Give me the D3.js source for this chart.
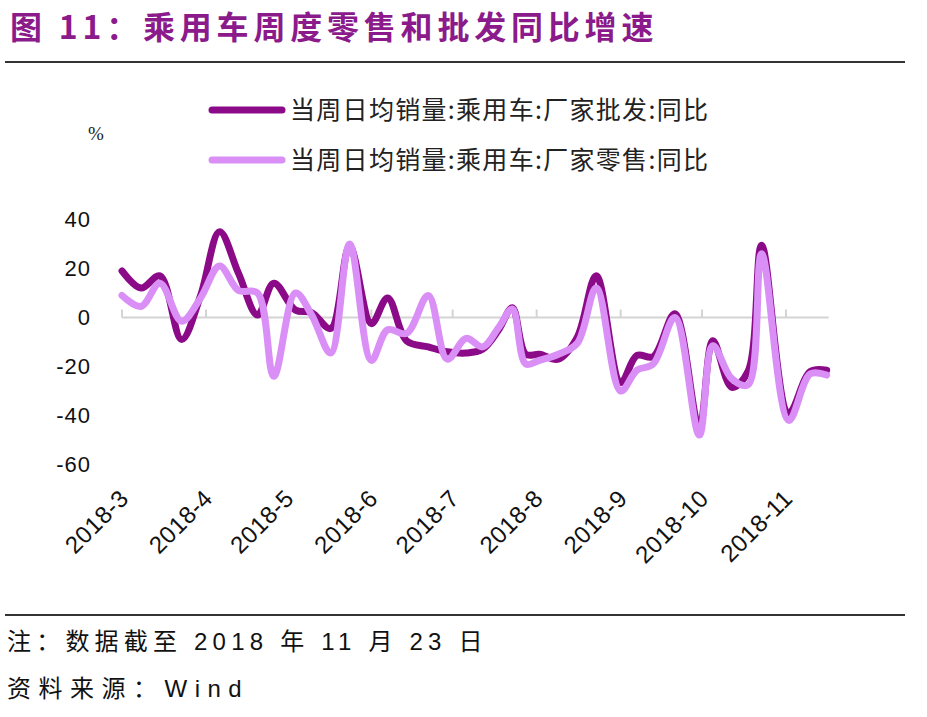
<!DOCTYPE html>
<html>
<head>
<meta charset="utf-8">
<script src="https://cdn.jsdelivr.net/npm/d3@7"></script>
<style>
  body { margin: 0; background: #fff; }
  svg { display: block; }
</style>
</head>
<body>
<script>
// weekly points (date of each week)
var dates = ["2018-03-01","2018-03-08","2018-03-15","2018-03-23","2018-03-30",
             "2018-04-06","2018-04-13","2018-04-20","2018-04-26","2018-05-04",
             "2018-05-10","2018-05-17","2018-05-24","2018-06-01","2018-06-07",
             "2018-06-14","2018-06-22","2018-06-29","2018-07-06","2018-07-12",
             "2018-07-18","2018-07-23","2018-07-28","2018-08-02","2018-08-09",
             "2018-08-16","2018-08-23","2018-09-01","2018-09-07","2018-09-13",
             "2018-09-21","2018-09-30","2018-10-05","2018-10-12","2018-10-18",
             "2018-10-23","2018-11-02","2018-11-10","2018-11-16"];

// 当周日均销量:乘用车:厂家批发:同比
var wholesale = [19, 12, 17, -9, 9,
                 35, 18, 1, 14, 3,
                 2, -4.5, 29, -2.5, 8,
                 -9.5, -12, -14, -14.5, -13,
                 -5, 4, -15, -15, -17,
                 -8, 17, -26.5, -15.5, -16,
                 1.5, -45, -9.5, -28.5, -22,
                 29.5, -39, -22, -21.5];

// 当周日均销量:乘用车:厂家零售:同比
var retail = [9, 4.5, 14, -1.5, 8,
              21, 11, 10, -24, 10,
              1, -14.5, 30, -17.5, -5,
              -6.5, 9, -17, -8.5, -12,
              -4, 3.5, -19, -17.5, -15,
              -10.5, 12, -30, -21.5, -19,
              0, -48, -11.5, -25, -27.5,
              26, -42, -23, -23.5];

var yTicks = [40, 20, 0, -20, -40, -60];
var seriesNames = ["当周日均销量:乘用车:厂家批发:同比", "当周日均销量:乘用车:厂家零售:同比"];
var colors = ["#8b0a87", "#da8ff6"];

var width = 927, height = 717;
var parse = d3.timeParse("%Y-%m-%d");
var dd = dates.map(parse);

var svg = d3.select("body").append("svg")
    .attr("width", width)
    .attr("height", height);

// title
svg.append("text")
    .attr("x", 10)
    .attr("y", 39)
    .style("font-family", "'Noto Sans CJK SC'")
    .style("font-weight", "bold")
    .style("font-size", "32px")
    .style("letter-spacing", "4.8px")
    .style("fill", "#8b1a8b")
    .text("图 11：乘用车周度零售和批发同比增速");

svg.append("line")
    .attr("x1", 5).attr("x2", 905)
    .attr("y1", 62).attr("y2", 62)
    .attr("stroke", "#333").attr("stroke-width", 2);

// scales
var x = d3.scaleTime()
    .domain([parse("2018-03-01"), parse("2018-11-01")])
    .range([122, 786]);

var y = d3.scaleLinear()
    .domain([-60, 40])
    .range([464.5, 219.5]);

// x axis line at zero with upward ticks
var months = d3.timeMonth.range(parse("2018-03-01"), parse("2018-12-01"));
var axisEnd = x(dd[dd.length - 1]) + 2;

svg.append("line")
    .attr("x1", x(months[0])).attr("x2", axisEnd)
    .attr("y1", y(0)).attr("y2", y(0))
    .attr("stroke", "#d4d4d4").attr("stroke-width", 2);

svg.selectAll(".tick")
    .data(months)
    .enter().append("line")
    .attr("class", "tick")
    .attr("x1", function(d) { return x(d); })
    .attr("x2", function(d) { return x(d); })
    .attr("y1", y(0))
    .attr("y2", y(0) - 8)
    .attr("stroke", "#d4d4d4").attr("stroke-width", 2);

// y labels
svg.selectAll(".ylab")
    .data(yTicks)
    .enter().append("text")
    .attr("class", "ylab")
    .attr("x", 91)
    .attr("y", function(d) { return y(d); })
    .attr("dy", "0.36em")
    .attr("text-anchor", "end")
    .style("font-family", "'Liberation Sans', Arial")
    .style("font-size", "22px")
    .style("letter-spacing", "1px")
    .style("fill", "#111")
    .text(function(d) { return d; });

svg.append("text")
    .attr("x", 96)
    .attr("y", 140)
    .attr("text-anchor", "middle")
    .style("font-family", "'Liberation Serif', serif")
    .style("font-size", "19px")
    .style("fill", "#222")
    .text("%");

// x labels, rotated
var fmt = d3.timeFormat("%Y-%-m");
svg.selectAll(".xlab")
    .data(months)
    .enter().append("text")
    .attr("class", "xlab")
    .attr("transform", function(d) { return "translate(" + (x(d) + 8) + ",500) rotate(-45)"; })
    .attr("text-anchor", "end")
    .style("font-family", "'Liberation Sans', Arial")
    .style("font-size", "24px")
    .style("letter-spacing", "0.5px")
    .style("fill", "#111")
    .text(function(d) { return fmt(d); });

// lines
var line = d3.line()
    .x(function(d) { return x(d[0]); })
    .y(function(d) { return y(d[1]); })
    .curve(d3.curveCatmullRom.alpha(0.5));

var seriesData = [wholesale, retail];
seriesData.forEach(function(vals, k) {
    svg.append("path")
        .datum(dd.map(function(d, i) { return [d, vals[i]]; }))
        .attr("d", line)
        .attr("fill", "none")
        .attr("stroke", colors[k])
        .attr("stroke-width", 7)
        .attr("stroke-linecap", "round")
        .attr("stroke-linejoin", "round");
});

// legend
var legend = svg.selectAll(".legend")
    .data(seriesNames)
    .enter().append("g")
    .attr("class", "legend")
    .attr("transform", function(d, i) { return "translate(212," + (110 + i * 50) + ")"; });

legend.append("line")
    .attr("x1", 0).attr("x2", 70)
    .attr("stroke", function(d, i) { return colors[i]; })
    .attr("stroke-width", 7)
    .attr("stroke-linecap", "round");

legend.append("text")
    .attr("x", 78)
    .attr("dy", "0.36em")
    .style("font-family", "'Noto Sans CJK SC'")
    .style("font-size", "25px")
    .style("letter-spacing", "1.3px")
    .style("fill", "#222")
    .text(function(d) { return d; });

// footer
svg.append("line")
    .attr("x1", 5).attr("x2", 905)
    .attr("y1", 615).attr("y2", 615)
    .attr("stroke", "#333").attr("stroke-width", 2);

svg.append("text")
    .attr("x", 7)
    .attr("y", 650)
    .style("font-family", "'Liberation Sans', 'Noto Sans CJK SC'")
    .style("font-size", "24px")
    .style("letter-spacing", "5.2px")
    .style("fill", "#111")
    .text("注：数据截至 2018 年 11 月 23 日");

svg.append("text")
    .attr("x", 7)
    .attr("y", 697)
    .style("font-family", "'Liberation Sans', 'Noto Sans CJK SC'")
    .style("font-size", "24px")
    .style("letter-spacing", "7.5px")
    .style("fill", "#111")
    .text("资料来源：Wind");
</script>
</body>
</html>
